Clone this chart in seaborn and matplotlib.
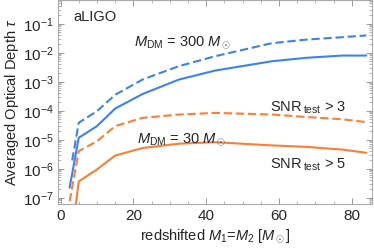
import numpy as np
import pandas as pd
import matplotlib
matplotlib.use("Agg")
import matplotlib.pyplot as plt
import seaborn as sns
from matplotlib.ticker import LogLocator, MultipleLocator, NullFormatter

# ---------------------------------------------------------------- data
mass = [2.5, 5, 10, 15, 22.5, 32.5, 42.5, 58, 67.5, 77.5, 84]
tau_300_snr5 = [2.2e-7, 1.15e-5, 2.9e-5, 1.17e-4, 3.7e-4, 1.17e-3, 2.4e-3, 5.0e-3, 6.6e-3, 7.9e-3, 7.9e-3]
mass_300_snr3 = [3.2, 5, 10, 15, 22.5, 32.5, 42.5, 58, 67.5, 77.5, 84]
tau_300_snr3 = [1.9e-6, 3.8e-5, 9.5e-5, 3.5e-4, 1.17e-3, 3.4e-3, 7.5e-3, 2.1e-2, 2.8e-2, 3.4e-2, 3.9e-2]
tau_30_snr3 = [7.4e-8, 4.0e-6, 8.7e-6, 2.9e-5, 5.6e-5, 7.3e-5, 8.3e-5, 7.3e-5, 6.0e-5, 5.0e-5, 4.0e-5]
tau_30_snr5 = [1.2e-9, 3.6e-7, 9.3e-7, 2.8e-6, 5.1e-6, 7.2e-6, 8.1e-6, 6.3e-6, 5.6e-6, 4.5e-6, 3.5e-6]

BLUE = "#3d82f2"
ORANGE = "#fd7f36"

curves = pd.concat([
    pd.DataFrame({"m": mass, "tau": tau_300_snr5, "curve": "300, >5"}),
    pd.DataFrame({"m": mass_300_snr3, "tau": tau_300_snr3, "curve": "300, >3"}),
    pd.DataFrame({"m": mass, "tau": tau_30_snr3, "curve": "30, >3"}),
    pd.DataFrame({"m": mass, "tau": tau_30_snr5, "curve": "30, >5"}),
])

sns.set_theme(style="ticks")
plt.rcParams["font.family"] = ["Liberation Sans", "DejaVu Sans"]
plt.rcParams["mathtext.fontset"] = "custom"
plt.rcParams["mathtext.rm"] = "Liberation Sans"
plt.rcParams["mathtext.it"] = "Liberation Sans:italic"

fig = plt.figure(figsize=(3.74, 2.53), dpi=100)
ax = fig.add_axes([0.156, 0.19, 0.839, 0.808])

sns.lineplot(data=curves, x="m", y="tau", hue="curve", style="curve",
             palette={"300, >5": BLUE, "300, >3": BLUE, "30, >3": ORANGE, "30, >5": ORANGE},
             dashes={"300, >5": "", "300, >3": (4, 1.8), "30, >3": (4, 1.8), "30, >5": ""},
             lw=1.5, legend=False, sort=False, ax=ax)

ax.set_yscale("log")
ax.set_xlim(-0.6, 85.6)

ax.xaxis.set_major_locator(MultipleLocator(20))
ax.xaxis.set_minor_locator(MultipleLocator(5))
ax.yaxis.set_minor_locator(LogLocator(base=10, subs=np.arange(2, 10), numticks=20))
ax.yaxis.set_minor_formatter(NullFormatter())
ax.set_yticks([1e-7, 1e-6, 1e-5, 1e-4, 1e-3, 1e-2, 1e-1])
ax.set_ylim(10 ** -7.22, 10 ** -0.17)

ax.tick_params(which="both", direction="in", top=True, right=True, color="#999999",
               labelsize=11, pad=3)
ax.tick_params(which="major", length=4, width=0.7)
ax.tick_params(which="minor", length=2, width=0.5)
for s in ax.spines.values():
    s.set_color("#aaaaaa")
    s.set_linewidth(0.8)

ax.set_xlabel(r"redshifted $M_1$=$M_2$ [$M_\odot$]", fontsize=10.5, labelpad=3)
ax.set_ylabel(r"Averaged Optical Depth $\tau$", fontsize=10.5, labelpad=2)

fs = 10.5
ax.text(0.048, 0.917, "aLIGO", transform=ax.transAxes, fontsize=fs, va="center")
ax.text(0.24, 0.795, r"$M_{\rm DM}$ = 300 $M_\odot$", transform=ax.transAxes, fontsize=fs, va="center")
ax.text(0.25, 0.317, r"$M_{\rm DM}$ = 30 $M_\odot$", transform=ax.transAxes, fontsize=fs, va="center")
ax.text(0.675, 0.473, r"SNR$\,_{\rm test}$ > 3", transform=ax.transAxes, fontsize=fs, va="center")
ax.text(0.675, 0.195, r"SNR$\,_{\rm test}$ > 5", transform=ax.transAxes, fontsize=fs, va="center")

fig.savefig("out.png", dpi=100)
